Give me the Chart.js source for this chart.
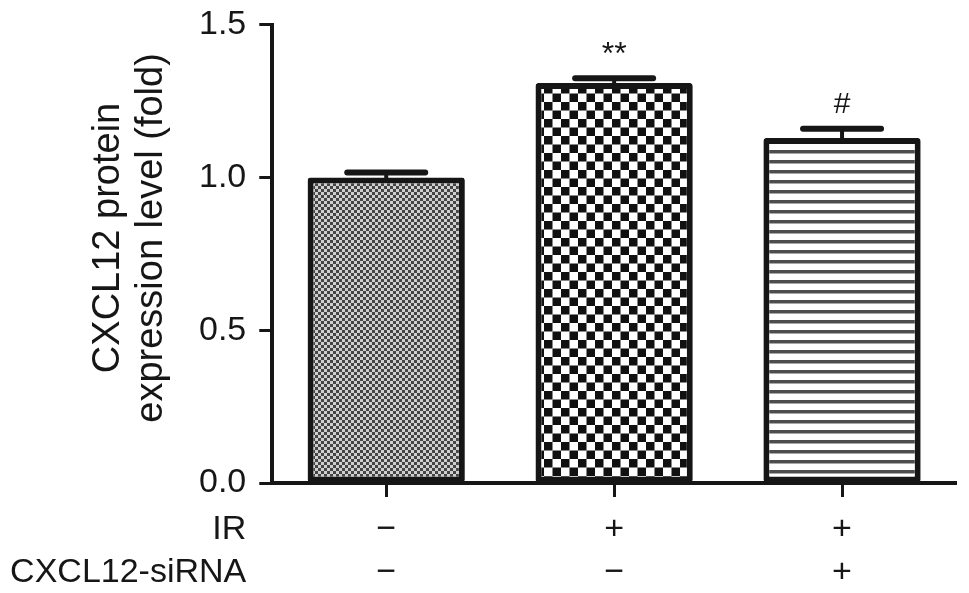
<!DOCTYPE html>
<html lang="en">
<head>
<meta charset="UTF-8">
<title>CXCL12 protein expression</title>
<script src="https://cdn.jsdelivr.net/npm/chart.js"></script>
<style>
  html, body { margin: 0; padding: 0; background: #fff; }
  #wrap { width: 969px; height: 593px; }
</style>
</head>
<body>
<div id="wrap"><canvas id="chart" width="969" height="593"></canvas></div>
<script>
// data
const groups = ['Control', 'IR', 'IR + CXCL12-siRNA'];
const expression = [1.00, 1.31, 1.13];
const sem = [0.017, 0.015, 0.03];
const marks = ['', '**', '#'];
const irRow = ['\u2212', '+', '+'];
const siRow = ['\u2212', '\u2212', '+'];
const rowNames = ['IR', 'CXCL12-siRNA'];
const yTitle = ['CXCL12 protein', 'expression level (fold)'];
const yTicks = [0, 0.5, 1.0, 1.5];

const FONT = '"Liberation Sans", Arial, Helvetica, sans-serif';
const INK = '#161616';

const ctx = document.getElementById('chart').getContext('2d');

function makePattern(w, h, draw) {
  const c = document.createElement('canvas');
  c.width = w; c.height = h;
  const g = c.getContext('2d');
  draw(g);
  return ctx.createPattern(c, 'repeat');
}

// fine grey dots
const dots = makePattern(6, 6, g => {
  g.fillStyle = '#cfcfcf'; g.fillRect(0, 0, 6, 6);
  g.fillStyle = '#454545';
  g.fillRect(0, 0, 3, 3); g.fillRect(3, 3, 3, 3);
});
// coarse checkerboard
const checker = makePattern(17, 17, g => {
  g.fillStyle = '#fff'; g.fillRect(0, 0, 17, 17);
  g.fillStyle = '#111';
  g.fillRect(0, 0, 8.5, 8.5); g.fillRect(8.5, 8.5, 8.5, 8.5);
});
// horizontal stripes
const stripes = makePattern(10, 10, g => {
  g.fillStyle = '#fff'; g.fillRect(0, 0, 10, 10);
  g.fillStyle = '#4d4d4d'; g.fillRect(0, 0, 10, 3);
  g.fillStyle = '#a8a8a8'; g.fillRect(0, 3, 10, 1);
});

// error bars, significance marks, y title and the treatment table under the axis
const extras = {
  id: 'extras',
  afterDatasetsDraw(chart) {
    const { ctx: c, scales: { x, y } } = chart;
    c.save();
    c.strokeStyle = INK;
    c.lineCap = 'round';
    expression.forEach((v, i) => {
      const cx = x.getPixelForValue(i);
      const top = y.getPixelForValue(v + sem[i]);
      c.lineWidth = 4;
      c.beginPath(); c.moveTo(cx, y.getPixelForValue(v)); c.lineTo(cx, top); c.stroke();
      c.lineWidth = 6;
      c.beginPath(); c.moveTo(cx - 39, top); c.lineTo(cx + 39, top); c.stroke();
    });
    c.restore();
  },
  afterDraw(chart) {
    const { ctx: c, scales: { x, y }, chartArea } = chart;
    c.save();
    c.fillStyle = INK;
    c.textAlign = 'center';
    c.textBaseline = 'alphabetic';
    const markStyle = { '**': { size: 32, lift: 14 }, '#': { size: 30, lift: 16 } };
    marks.forEach((m, i) => {
      if (!m) return;
      const s = markStyle[m];
      c.font = s.size + 'px ' + FONT;
      c.fillText(m, x.getPixelForValue(i), y.getPixelForValue(expression[i] + sem[i]) - s.lift);
    });

    // rotated y title, two lines
    c.save();
    c.font = '38px ' + FONT;
    c.textBaseline = 'middle';
    c.translate(chartArea.left - 164, (chartArea.top + chartArea.bottom) / 2 - 16);
    c.rotate(-Math.PI / 2);
    yTitle.forEach((t, k) => c.fillText(t, 0, k * 43));
    c.restore();

    c.font = '34px ' + FONT;
    c.textBaseline = 'middle';
    [irRow, siRow].forEach((row, r) => {
      const ry = chartArea.bottom + 47 + r * 43;
      c.textAlign = 'right';
      c.fillText(rowNames[r], chartArea.left - 26, ry);
      c.textAlign = 'center';
      row.forEach((s, i) => c.fillText(s, x.getPixelForValue(i), ry));
    });
    c.restore();
  }
};

new Chart(ctx, {
  type: 'bar',
  data: {
    labels: groups,
    datasets: [{
      data: expression,
      backgroundColor: [dots, checker, stripes],
      borderColor: INK,
      borderWidth: 6,
      borderSkipped: false,
      borderRadius: 3,
      categoryPercentage: 1,
      barPercentage: 0.69
    }]
  },
  options: {
    responsive: false,
    animation: false,
    layout: { padding: { left: 186, right: 13, top: 0, bottom: 96 } },
    plugins: { legend: { display: false }, tooltip: { enabled: false } },
    scales: {
      x: {
        offset: true,
        grid: { offset: false, drawOnChartArea: false, drawTicks: true, tickLength: 14, tickWidth: 3, tickColor: INK },
        border: { display: true, width: 4, color: INK },
        ticks: { display: false }
      },
      y: {
        min: 0, max: 1.5,
        afterBuildTicks: s => { s.ticks = yTicks.map(v => ({ value: v })); },
        grid: { drawOnChartArea: false, drawTicks: true, tickLength: 13, tickWidth: 3, tickColor: INK },
        border: { display: true, width: 4, color: INK },
        ticks: {
          padding: 13,
          color: INK,
          font: { family: FONT, size: 34, lineHeight: 0.7 },
          callback: v => Number(v).toFixed(1)
        }
      }
    }
  },
  plugins: [extras]
});
</script>
</body>
</html>
